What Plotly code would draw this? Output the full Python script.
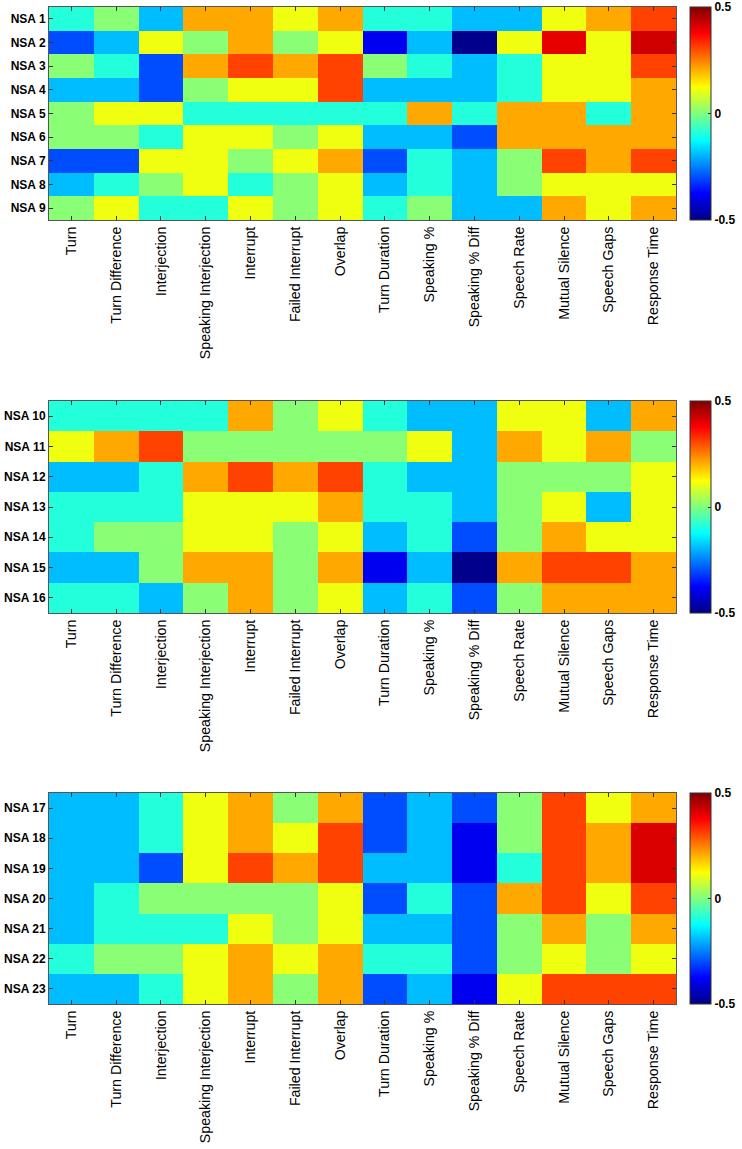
import plotly.graph_objects as go

W, H = 742, 1149

features = ["Turn", "Turn Difference", "Interjection", "Speaking Interjection", "Interrupt",
            "Failed Interrupt", "Overlap", "Turn Duration", "Speaking %", "Speaking % Diff",
            "Speech Rate", "Mutual Silence", "Speech Gaps", "Response Time"]

rows_top = ["NSA 1", "NSA 2", "NSA 3", "NSA 4", "NSA 5", "NSA 6", "NSA 7", "NSA 8", "NSA 9"]
values_top = [
    [-0.09, 0.01, -0.19, 0.21, 0.21, 0.11, 0.21, -0.09, -0.09, -0.19, -0.19, 0.11, 0.21, 0.31],
    [-0.30, -0.19, 0.11, 0.01, 0.21, 0.01, 0.11, -0.39, -0.19, -0.49, 0.11, 0.40, 0.11, 0.42],
    [0.01, -0.09, -0.30, 0.21, 0.31, 0.21, 0.31, 0.01, -0.09, -0.19, -0.09, 0.11, 0.11, 0.31],
    [-0.19, -0.19, -0.30, 0.01, 0.11, 0.11, 0.31, -0.19, -0.19, -0.19, -0.09, 0.11, 0.11, 0.21],
    [0.01, 0.11, 0.11, -0.09, -0.09, -0.09, -0.09, -0.09, 0.21, -0.09, 0.21, 0.21, -0.09, 0.21],
    [0.01, 0.01, -0.09, 0.11, 0.11, 0.01, 0.11, -0.19, -0.19, -0.30, 0.21, 0.21, 0.21, 0.21],
    [-0.30, -0.30, 0.11, 0.11, 0.01, 0.11, 0.21, -0.30, -0.09, -0.19, 0.01, 0.31, 0.21, 0.31],
    [-0.19, -0.09, 0.01, 0.11, -0.09, 0.01, 0.11, -0.19, -0.09, -0.19, 0.01, 0.11, 0.11, 0.11],
    [0.01, 0.11, -0.09, -0.09, 0.11, 0.01, 0.11, -0.09, 0.01, -0.19, -0.19, 0.21, 0.11, 0.21],
]

rows_mid = ["NSA 10", "NSA 11", "NSA 12", "NSA 13", "NSA 14", "NSA 15", "NSA 16"]
values_mid = [
    [-0.09, -0.09, -0.09, -0.09, 0.21, 0.01, 0.11, -0.09, -0.19, -0.19, 0.11, 0.11, -0.19, 0.21],
    [0.11, 0.21, 0.31, 0.01, 0.01, 0.01, 0.01, 0.01, 0.11, -0.19, 0.21, 0.11, 0.21, 0.01],
    [-0.19, -0.19, -0.09, 0.21, 0.31, 0.21, 0.31, -0.09, -0.19, -0.19, 0.01, 0.01, 0.01, 0.11],
    [-0.09, -0.09, -0.09, 0.11, 0.11, 0.11, 0.21, -0.09, -0.09, -0.19, 0.01, 0.11, -0.19, 0.11],
    [-0.09, 0.01, 0.01, 0.11, 0.11, 0.01, 0.11, -0.19, -0.09, -0.30, 0.01, 0.21, 0.11, 0.11],
    [-0.19, -0.19, 0.01, 0.21, 0.21, 0.01, 0.21, -0.39, -0.19, -0.49, 0.21, 0.31, 0.31, 0.21],
    [-0.09, -0.09, -0.19, 0.01, 0.21, 0.01, 0.11, -0.19, -0.09, -0.30, 0.01, 0.21, 0.21, 0.21],
]

rows_bot = ["NSA 17", "NSA 18", "NSA 19", "NSA 20", "NSA 21", "NSA 22", "NSA 23"]
values_bot = [
    [-0.19, -0.19, -0.09, 0.11, 0.21, 0.01, 0.21, -0.30, -0.19, -0.30, 0.01, 0.31, 0.11, 0.21],
    [-0.19, -0.19, -0.09, 0.11, 0.21, 0.11, 0.31, -0.30, -0.19, -0.39, 0.01, 0.31, 0.21, 0.41],
    [-0.19, -0.19, -0.30, 0.11, 0.31, 0.21, 0.31, -0.19, -0.19, -0.39, -0.09, 0.31, 0.21, 0.41],
    [-0.19, -0.09, 0.01, 0.01, 0.01, 0.01, 0.11, -0.30, -0.09, -0.30, 0.21, 0.31, 0.11, 0.31],
    [-0.19, -0.09, -0.09, -0.09, 0.11, 0.01, 0.11, -0.19, -0.19, -0.30, 0.01, 0.21, 0.01, 0.21],
    [-0.09, 0.01, 0.01, 0.11, 0.21, 0.11, 0.21, -0.09, -0.09, -0.30, 0.01, 0.11, 0.01, 0.11],
    [-0.19, -0.19, -0.09, 0.11, 0.21, 0.01, 0.21, -0.30, -0.19, -0.39, 0.11, 0.31, 0.31, 0.31],
]

cbar_ticks = [-0.5, 0, 0.5]
cbar_labels = ["-0.5", "0", "0.5"]

jet = [
    [0.0, "rgb(0,0,131)"],
    [0.125, "rgb(0,0,255)"],
    [0.375, "rgb(0,255,255)"],
    [0.625, "rgb(255,255,0)"],
    [0.875, "rgb(255,0,0)"],
    [1.0, "rgb(128,0,0)"],
]

# pixel geometry (top-based)
x_left, x_right = 49, 676
panels = [
    (rows_top, values_top, 7, 220),
    (rows_mid, values_mid, 401, 613),
    (rows_bot, values_bot, 793, 1004),
]
cb_x = 690

fig = go.Figure()
axis_font = "Liberation Sans, Arial, sans-serif"

for i, (rows, vals, top, bot) in enumerate(panels):
    n = "" if i == 0 else str(i + 1)
    y0 = 1 - bot / H
    y1 = 1 - top / H
    fig.add_trace(go.Heatmap(
        z=vals, x=features, y=rows,
        xaxis="x" + n, yaxis="y" + n,
        colorscale=jet, zmin=-0.5, zmax=0.5,
        colorbar=dict(
            x=cb_x / W, xanchor="left", xpad=0, ypad=0,
            y=(y0 + y1) / 2, yanchor="middle",
            len=(y1 - y0), lenmode="fraction",
            thickness=21, thicknessmode="pixels",
            tickvals=cbar_ticks, ticktext=cbar_labels,
            ticks="inside", ticklen=3, tickcolor="#333",
            tickfont=dict(family=axis_font, size=12, color="black", weight="bold"),
            outlinewidth=1, outlinecolor="#333",
        ),
        hoverongaps=False,
    ))
    fig.layout["xaxis" + n] = dict(
        domain=[x_left / W, x_right / W], anchor="y" + n, automargin=False,
        tickangle=-90, ticks="inside", ticklen=4, tickcolor="#333",
        showline=True, linecolor="#555", linewidth=1, mirror="ticks",
        tickfont=dict(family=axis_font, size=14.2, color="black"),
        showgrid=False, zeroline=False,
    )
    fig.layout["yaxis" + n] = dict(
        domain=[y0, y1], anchor="x" + n, automargin=False,
        autorange="reversed", ticks="inside", ticklen=4, tickcolor="#333",
        showline=True, linecolor="#555", linewidth=1, mirror="ticks",
        tickfont=dict(family=axis_font, size=12, color="black", weight="bold"),
        showgrid=False, zeroline=False, ticklabelstandoff=0,
    )

fig.update_layout(
    width=W, height=H,
    margin=dict(l=0, r=0, t=0, b=0, autoexpand=False),
    paper_bgcolor="white", plot_bgcolor="white",
    showlegend=False,
)

fig.write_html(
    "out.html",
    config={"displayModeBar": False},
    post_script="document.body.style.margin='0px';document.body.style.overflow='hidden';",
)
